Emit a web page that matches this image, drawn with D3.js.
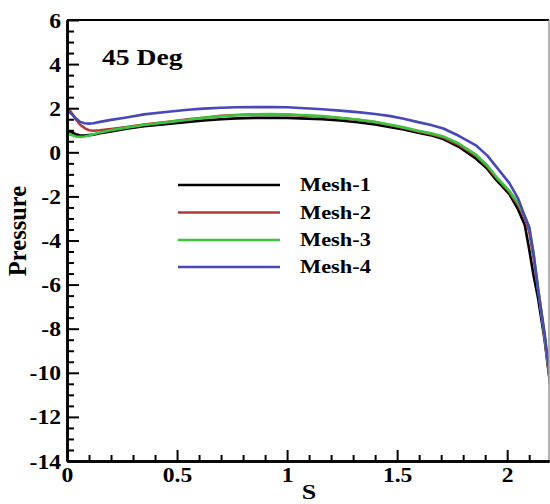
<!DOCTYPE html>
<html><head><meta charset="utf-8">
<script src="https://cdn.jsdelivr.net/npm/d3@7"></script>
<style>
html,body{margin:0;padding:0;background:#fff;}
svg text{font-family:"Liberation Serif","Times New Roman",serif;font-weight:bold;fill:#000;}
</style></head>
<body>
<svg id="chart" width="550" height="504"></svg>
<script>
// ---- data ----
const sValues = [0,0.02,0.04,0.06,0.08,0.1,0.12,0.15,0.2,0.27,0.35,0.47,0.55,0.62,0.7,0.77,0.85,0.92,1.0,1.06,1.16,1.24,1.32,1.4,1.47,1.53,1.59,1.65,1.71,1.78,1.86,1.91,1.95,2.01,2.05,2.08,2.1,2.12,2.14,2.17,2.2];
const mesh1 = [0.98,0.92,0.82,0.76,0.76,0.78,0.8,0.86,0.95,1.07,1.18,1.3,1.38,1.44,1.5,1.54,1.56,1.56,1.56,1.54,1.5,1.44,1.36,1.26,1.14,1.03,0.9,0.78,0.6,0.25,-0.3,-0.75,-1.25,-1.9,-2.6,-3.3,-4.4,-5.6,-6.6,-8.5,-10.9];
const mesh2 = [2.05,1.8,1.5,1.25,1.1,1.0,0.98,1.0,1.06,1.15,1.26,1.4,1.5,1.57,1.65,1.69,1.72,1.72,1.7,1.67,1.62,1.55,1.47,1.36,1.23,1.1,0.96,0.83,0.67,0.34,-0.18,-0.66,-1.15,-1.8,-2.4,-3.0,-3.6,-4.8,-6.2,-8.4,-10.9];
const mesh3 = [0.85,0.78,0.72,0.7,0.72,0.76,0.82,0.9,1.0,1.12,1.24,1.38,1.48,1.56,1.63,1.68,1.72,1.73,1.72,1.69,1.64,1.57,1.49,1.38,1.25,1.13,0.99,0.87,0.72,0.4,-0.12,-0.6,-1.1,-1.75,-2.3,-2.9,-3.4,-4.6,-6.1,-8.3,-10.8];
const mesh4 = [1.9,1.75,1.55,1.38,1.32,1.3,1.32,1.38,1.47,1.58,1.72,1.85,1.93,1.98,2.02,2.04,2.05,2.05,2.04,2.01,1.95,1.89,1.82,1.74,1.64,1.52,1.38,1.25,1.08,0.75,0.3,-0.15,-0.65,-1.4,-2.1,-2.9,-3.4,-4.6,-6.2,-8.2,-10.7];
const seriesNames = ["Mesh-1","Mesh-2","Mesh-3","Mesh-4"];
const seriesColors = ["#000000","#b03838","#3cc43c","#4848b8"];
const xMajorTicks = [0,0.5,1,1.5,2];
const xMinorTicks = [0.1,0.2,0.3,0.4,0.6,0.7,0.8,0.9,1.1,1.2,1.3,1.4,1.6,1.7,1.8,1.9,2.1];
const yMajorTicks = [-14,-12,-10,-8,-6,-4,-2,0,2,4,6];
const yMinorTicks = [-13.5,-13,-12.5,-11.5,-11,-10.5,-9.5,-9,-8.5,-7.5,-7,-6.5,-5.5,-5,-4.5,-3.5,-3,-2.5,-1.5,-1,-0.5,0.5,1,1.5,2.5,3,3.5,4.5,5,5.5];
const titleText = "45 Deg";
const xLabel = "S";
const yLabel = "Pressure";

// ---- layout ----
const L = 67, R = 549, T = 20, B = 461;
const SX = 1.18; // horizontal stretch of text in reference
const svg = d3.select("#chart");
const x = d3.scaleLinear().domain([0, 2.19]).range([L, R]);
const y = d3.scaleLinear().domain([-14, 6]).range([B, T]);

svg.append("defs").append("clipPath").attr("id","clip")
  .append("rect").attr("x",L).attr("y",T).attr("width",R-L).attr("height",B-T);

// lines
const allSeries = [mesh1, mesh2, mesh3, mesh4];
const line = d3.line().x((d,i)=>x(sValues[i])).y(d=>y(d));
const g = svg.append("g").attr("clip-path","url(#clip)");
allSeries.forEach((s,k)=>{
  g.append("path").datum(s).attr("d",line).attr("fill","none")
   .attr("stroke",seriesColors[k]).attr("stroke-width",2.6)
   .attr("stroke-linejoin","round");
});

// frame (top & right)
svg.append("line").attr("x1",L).attr("x2",R).attr("y1",T).attr("y2",T).attr("stroke","#000").attr("stroke-width",2);
svg.append("line").attr("x1",R).attr("x2",R).attr("y1",T).attr("y2",B).attr("stroke","#999").attr("stroke-width",1.5);

// axes
const fmt = d => String(d);
const xMinor = svg.append("g").attr("transform",`translate(0,${B})`)
  .call(d3.axisBottom(x).tickValues(xMinorTicks).tickSize(-6).tickFormat("").tickSizeOuter(0));
const xMajor = svg.append("g").attr("transform",`translate(0,${B})`)
  .call(d3.axisBottom(x).tickValues(xMajorTicks).tickSize(-11).tickFormat(fmt).tickSizeOuter(0).tickPadding(0));
const yMinor = svg.append("g").attr("transform",`translate(${L},0)`)
  .call(d3.axisLeft(y).tickValues(yMinorTicks).tickSize(-7).tickFormat("").tickSizeOuter(0));
const yMajor = svg.append("g").attr("transform",`translate(${L},0)`)
  .call(d3.axisLeft(y).tickValues(yMajorTicks).tickSize(-12).tickFormat(fmt).tickSizeOuter(0));

[xMinor,xMajor,yMinor,yMajor].forEach(a=>{
  a.selectAll(".domain").attr("stroke","#000").attr("stroke-width",2.5);
  a.selectAll(".tick line").attr("stroke","#000").attr("stroke-width",2);
});
xMajor.selectAll(".tick text")
  .attr("y",null).attr("dy",null).attr("x",null)
  .attr("transform",`translate(0,21) scale(${SX},1)`)
  .style("font-size","20px").attr("text-anchor","middle");
yMajor.selectAll(".tick text")
  .attr("x",null).attr("dy",null)
  .attr("transform",`translate(-6,7) scale(${SX},1)`)
  .style("font-size","20px").attr("text-anchor","end");

// titles
svg.append("text").text(titleText).attr("transform",`translate(102,65) scale(1.2,1)`).style("font-size","23px");
svg.append("text").text(xLabel).attr("text-anchor","middle").attr("transform",`translate(309,499) scale(${SX},1)`).style("font-size","22px");
svg.append("text").text(yLabel).attr("text-anchor","middle").attr("transform",`translate(26,231) rotate(-90)`).style("font-size","24.5px");

// legend
const legendY = [185,212.5,240,267];
seriesNames.forEach((n,k)=>{
  svg.append("line").attr("x1",178).attr("x2",280).attr("y1",legendY[k]).attr("y2",legendY[k])
    .attr("stroke",seriesColors[k]).attr("stroke-width",2.6);
  svg.append("text").text(n).attr("transform",`translate(300,${legendY[k]+6}) scale(1.18,1)`).style("font-size","19px");
});
</script>
</body></html>
